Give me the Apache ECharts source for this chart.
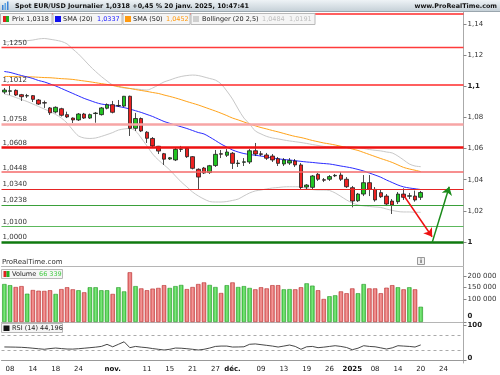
<!DOCTYPE html>
<html><head><meta charset="utf-8">
<script src="https://cdn.jsdelivr.net/npm/echarts@6/dist/echarts.min.js"></script>
<style>html,body{margin:0;padding:0;background:#fff}#c{width:500px;height:375px}</style>
</head><body><div id="c"></div>
<script>
const categories = [
'2024-10-07','2024-10-08','2024-10-09','2024-10-10','2024-10-11',
'2024-10-14','2024-10-15','2024-10-16','2024-10-17','2024-10-18',
'2024-10-21','2024-10-22','2024-10-23','2024-10-24','2024-10-25',
'2024-10-28','2024-10-29','2024-10-30','2024-10-31','2024-11-01',
'2024-11-04','2024-11-05','2024-11-06','2024-11-07','2024-11-08',
'2024-11-11','2024-11-12','2024-11-13','2024-11-14','2024-11-15',
'2024-11-18','2024-11-19','2024-11-20','2024-11-21','2024-11-22',
'2024-11-25','2024-11-26','2024-11-27','2024-11-28','2024-11-29',
'2024-12-02','2024-12-03','2024-12-04','2024-12-05','2024-12-06',
'2024-12-09','2024-12-10','2024-12-11','2024-12-12','2024-12-13',
'2024-12-16','2024-12-17','2024-12-18','2024-12-19','2024-12-20',
'2024-12-23','2024-12-24','2024-12-26','2024-12-27',
'2024-12-30','2024-12-31','2025-01-02','2025-01-03',
'2025-01-06','2025-01-07','2025-01-08','2025-01-09','2025-01-10',
'2025-01-13','2025-01-14','2025-01-15','2025-01-16','2025-01-17',
'2025-01-20','2025-01-21','2025-01-22','2025-01-23','2025-01-24',
'2025-01-27','2025-01-28','2025-01-29'];

// [open, close, low, high]
const candles = [
[1.0963,1.0976,1.0951,1.0989],[1.0968,1.0971,1.0944,1.1002],[1.0974,1.0944,1.0938,1.0980],[1.0946,1.0933,1.0906,1.0951],
[1.0938,1.0940,1.0925,1.0951],[1.0940,1.0916,1.0899,1.0944],[1.0912,1.0886,1.0880,1.0918],[1.0895,1.0892,1.0861,1.0908],
[1.0861,1.0830,1.0816,1.0867],[1.0835,1.0865,1.0826,1.0871],[1.0856,1.0814,1.0806,1.0862],[1.0818,1.0803,1.0796,1.0837],
[1.0796,1.0784,1.0764,1.0800],[1.0784,1.0822,1.0777,1.0828],[1.0822,1.0796,1.0790,1.0829],[1.0796,1.0818,1.0790,1.0825],
[1.0825,1.0828,1.0766,1.0835],[1.0818,1.0861,1.0812,1.0867],[1.0859,1.0882,1.0852,1.0890],[1.0882,1.0833,1.0826,1.0906],
[1.0874,1.0877,1.0867,1.0912],[1.0873,1.0936,1.0867,1.0938],[1.0936,1.0730,1.0681,1.0940],[1.0730,1.0793,1.0713,1.0829],
[1.0793,1.0713,1.0706,1.0800],[1.0705,1.0666,1.0636,1.0712],[1.0665,1.0617,1.0604,1.0674],[1.0615,1.0584,1.0565,1.0617],
[1.0567,1.0532,1.0495,1.0572],[1.0533,1.0541,1.0527,1.0546],[1.0527,1.0595,1.0520,1.0605],[1.0595,1.0598,1.0578,1.0617],
[1.0602,1.0548,1.0540,1.0610],[1.0548,1.0473,1.0466,1.0552],[1.0467,1.0417,1.0334,1.0473],[1.0475,1.0443,1.0437,1.0482],
[1.0446,1.0490,1.0437,1.0495],[1.0491,1.0563,1.0482,1.0591],[1.0567,1.0564,1.0539,1.0591],[1.0557,1.0578,1.0546,1.0597],
[1.0570,1.0505,1.0469,1.0578],[1.0504,1.0507,1.0482,1.0527],[1.0512,1.0515,1.0488,1.0539],[1.0514,1.0586,1.0501,1.0597],
[1.0586,1.0565,1.0552,1.0636],[1.0566,1.0563,1.0552,1.0584],[1.0559,1.0538,1.0527,1.0572],[1.0552,1.0527,1.0514,1.0565],
[1.0535,1.0505,1.0488,1.0546],[1.0501,1.0527,1.0488,1.0539],[1.0507,1.0523,1.0495,1.0539],[1.0520,1.0495,1.0482,1.0533],
[1.0495,1.0350,1.0340,1.0507],[1.0353,1.0366,1.0340,1.0372],[1.0351,1.0424,1.0340,1.0430],[1.0435,1.0403,1.0392,1.0443],
[1.0400,1.0397,1.0385,1.0411],[1.0403,1.0420,1.0392,1.0430],[1.0425,1.0428,1.0417,1.0437],[1.0430,1.0403,1.0392,1.0450],
[1.0403,1.0355,1.0347,1.0417],[1.0349,1.0263,1.0223,1.0360],[1.0265,1.0308,1.0257,1.0315],[1.0308,1.0381,1.0295,1.0430],
[1.0381,1.0338,1.0295,1.0430],[1.0338,1.0270,1.0259,1.0353],[1.0317,1.0291,1.0283,1.0334],[1.0295,1.0244,1.0231,1.0308],
[1.0263,1.0238,1.0180,1.0276],[1.0259,1.0308,1.0244,1.0321],[1.0308,1.0287,1.0270,1.0345],[1.0294,1.0297,1.0276,1.0315],
[1.0295,1.0270,1.0259,1.0330],[1.0287,1.0318,1.0270,1.0328]];

const volumes = [165000,160000,152000,156000,123000,139000,136000,135000,138000,122000,
143000,151000,142000,138000,129000,151000,151000,138000,138000,122000,
151000,133000,216000,156000,146000,138000,145000,148000,160000,148000,
156000,161000,143000,152000,165000,172000,161000,152000,126000,160000,
172000,152000,156000,148000,142000,151000,146000,160000,160000,142000,
143000,142000,151000,168000,158000,138000,100000,112000,116000,133000,
125000,146000,125000,165000,146000,146000,125000,149000,160000,151000,
142000,151000,142000,66339];

const rsi = [38.5,38.3,38,37.5,36.5,35,33.5,32,34,35.5,34,32.7,32.5,33.6,35,36.5,38,40,45.8,39,
46,53,36.5,40,38,36.5,34,32,30,32,35.5,35,33.6,32,30,32,35.5,40,41,41,
38.3,38.5,39,46,47,45,43,41,38.3,41,44,40,32,39,40,36.5,38,40,42,40,
37,30.8,35,42,40,39,36,32.7,36,42,41,40,38.3,44.196];

const sma20 = [1.1095,1.1089,1.1079,1.1069,1.1060,1.1050,1.1037,1.1028,1.1015,1.1002,
1.0986,1.0970,1.0954,1.0938,1.0922,1.0909,1.0896,1.0886,1.0881,1.0877,
1.0870,1.0863,1.0854,1.0843,1.0832,1.0819,1.0806,1.0790,1.0774,1.0762,
1.0751,1.0740,1.0729,1.0716,1.0703,1.0694,1.0674,1.0652,1.0629,1.0610,
1.0591,1.0578,1.0568,1.0562,1.0557,1.0552,1.0546,1.0540,1.0534,1.0530,
1.0527,1.0522,1.0518,1.0514,1.0511,1.0507,1.0504,1.0501,1.0495,1.0488,
1.0482,1.0475,1.0466,1.0456,1.0443,1.0430,1.0416,1.0398,1.0382,1.0366,
1.0354,1.0347,1.0342,1.0337];

const sma50 = [1.1063,1.1063,1.1062,1.1062,1.1061,1.1060,1.1058,1.1056,1.1055,1.1052,
1.1049,1.1047,1.1044,1.1039,1.1034,1.1029,1.1023,1.1017,1.1012,1.1005,
1.0999,1.0992,1.0986,1.0979,1.0973,1.0967,1.0960,1.0954,1.0944,1.0935,
1.0925,1.0914,1.0902,1.0891,1.0880,1.0867,1.0854,1.0841,1.0827,1.0812,
1.0796,1.0784,1.0771,1.0758,1.0746,1.0735,1.0726,1.0716,1.0707,1.0697,
1.0687,1.0678,1.0671,1.0662,1.0652,1.0644,1.0636,1.0630,1.0623,1.0615,
1.0607,1.0597,1.0588,1.0575,1.0562,1.0549,1.0536,1.0524,1.0511,1.0495,
1.0479,1.0469,1.0461,1.0452];

const bollUpper = [1.1284,1.1288,1.1291,1.1292,1.1293,1.1297,1.1304,1.1307,1.1302,1.1296,
1.1288,1.1272,1.1239,1.1207,1.1169,1.1130,1.1095,1.1063,1.1034,1.1008,
1.0996,1.0989,1.0986,1.0983,1.0979,1.0976,1.0989,1.1008,1.1028,1.1040,
1.1053,1.1063,1.1069,1.1072,1.1069,1.1060,1.1050,1.1040,1.1015,1.0970,
1.0918,1.0854,1.0796,1.0758,1.0713,1.0694,1.0678,1.0668,1.0662,1.0655,
1.0649,1.0644,1.0639,1.0633,1.0626,1.0620,1.0614,1.0612,1.0612,1.0612,
1.0612,1.0610,1.0607,1.0601,1.0594,1.0589,1.0585,1.0578,1.0572,1.0552,
1.0527,1.0501,1.0488,1.0484];

const bollLower = [1.0951,1.0941,1.0928,1.0915,1.0902,1.0886,1.0870,1.0854,1.0838,1.0819,
1.0796,1.0764,1.0719,1.0681,1.0668,1.0665,1.0668,1.0678,1.0690,1.0703,
1.0719,1.0726,1.0729,1.0713,1.0668,1.0617,1.0565,1.0527,1.0495,1.0463,
1.0424,1.0386,1.0354,1.0321,1.0296,1.0276,1.0260,1.0257,1.0257,1.0260,
1.0267,1.0276,1.0296,1.0315,1.0328,1.0334,1.0341,1.0347,1.0350,1.0354,
1.0355,1.0355,1.0354,1.0344,1.0337,1.0334,1.0334,1.0331,1.0315,1.0293,
1.0270,1.0251,1.0238,1.0232,1.0228,1.0225,1.0222,1.0212,1.0203,1.0196,
1.0193,1.0193,1.0191,1.0191];

const levelValues = [1.1465,1.1250,1.1012,1.0758,1.0608,1.0448,1.0340,1.0238,1.0100,1.0000];
const levelLabels = ['','1,1250','1,1012','1,0758','1,0608','1,0448','1,0340','1,0238','1,0100','1,0000'];
const priceTicks = [1.00,1.02,1.04,1.06,1.08,1.10,1.12,1.14];
const volumeTicks = [0,100000,150000,200000];
const rsiTicks = [0,100];
const rsiBands = [30,70];
const tickDates = ['2024-10-08','2024-10-14','2024-10-18','2024-10-24','2024-11-01','2024-11-11','2024-11-15','2024-11-21','2024-11-27','2024-12-02','2024-12-09','2024-12-13','2024-12-19','2024-12-26','2025-01-02','2025-01-08','2025-01-14','2025-01-20','2025-01-24'];
const tickTexts = ['08','14','18','24','nov.','11','15','21','27','déc.','09','13','19','26','2025','08','14','20','24'];
const lastPrice = 1.0318, lastVolume = 66339, lastRsi = 44.196;
const lastSma20 = 1.0337, lastSma50 = 1.0452, lastBollUp = 1.0484, lastBollLow = 1.0191;
const redArrow = [[70,1.0300],[75,1.0034]];
const greenArrow = [[75,0.9996],[78,1.0355]];

// ---- styles ----
const FONT = 'DejaVu Sans';
const levelStyles = [
  {c:'#ff2a2a',w:1.5},{c:'#ff3b3b',w:1.3},{c:'#ff2a2a',w:1.5},{c:'#f7a5a5',w:2.5},{c:'#ee1111',w:2.5},
  {c:'#f56a6a',w:1.5},{c:'#e52424',w:1},{c:'#3aa03a',w:1},{c:'#5cb85c',w:1},{c:'#0f7a0f',w:2.5}];
const boldTexts = ['nov.','déc.','2025'];
const fmtNum = (v, d) => v.toFixed(d).replace('.', ',');
const thousands = v => String(v).replace(/\B(?=(\d{3})+(?!\d))/g, '\u00a0');

const chart = echarts.init(document.getElementById('c'), null, {renderer:'canvas'});

const volData = volumes.map((v, i) => {
  const up = candles[i][1] >= candles[i][0];
  return {value: v, itemStyle: up ? {
      color: new echarts.graphic.LinearGradient(0,0,1,0,[{offset:0,color:'#36c736'},{offset:0.5,color:'#7fe67f'},{offset:1,color:'#36c736'}]),
      borderColor:'#2a9a2a', borderWidth:0.6 } : {
      color: new echarts.graphic.LinearGradient(0,0,1,0,[{offset:0,color:'#e05a5a'},{offset:0.5,color:'#f29a9a'},{offset:1,color:'#e05a5a'}]),
      borderColor:'#b83030', borderWidth:0.6 }};
});

const lvlData = levelValues.map((v, i) => ({
  yAxis: v,
  lineStyle: {color: levelStyles[i].c, width: levelStyles[i].w, type:'solid'},
  label: {show: levelLabels[i] !== '', formatter: levelLabels[i], position:'insideStartTop',
          distance:[1,1], color:'#333', fontSize:7, fontFamily:FONT}
}));

const axisLabelBase = {fontSize:7, fontFamily:FONT, color:'#333', margin:4,
  rich:{b:{fontSize:7, fontFamily:FONT, fontWeight:'bold', color:'#222'}}};

const legendText = (x, y, txt, color) => ({type:'text', z:101, x:x, y:y,
  style:{text:txt, fontSize:6.5, fontFamily:FONT, fill:color, verticalAlign:'middle'}});

const option = {
  animation:false,
  backgroundColor:'#fff',
  grid:[
    {left:1.5, width:462, top:12, height:254},
    {left:1.5, width:462, top:267, height:55},
    {left:1.5, width:462, top:322, height:41}
  ],
  xAxis:[0,1,2].map(k => ({
    type:'category', data:categories, gridIndex:k, boundaryGap:true,
    axisLine:{show:true, lineStyle:{color: k===2 ? '#999' : '#b5b5b5', width:1}},
    axisTick:{show:false},
    splitLine:{show:false},
    axisLabel: k===2 ? {
      show:true, fontSize:7, fontFamily:FONT, color:'#222', margin:3,
      interval:(i, v) => tickDates.indexOf(v) >= 0,
      formatter:v => { const t = tickTexts[tickDates.indexOf(v)]; return boldTexts.indexOf(t)>=0 ? '{b|'+t+'}' : t; },
      rich:{b:{fontSize:7, fontFamily:FONT, fontWeight:'bold', color:'#111'}}
    } : {show:false}
  })),
  yAxis:[
    {type:'value', gridIndex:0, position:'right', min:0.9846, max:1.1477, scale:true,
     axisLine:{show:true, lineStyle:{color:'#aaa'}},
     axisTick:{show:true, length:3, lineStyle:{color:'#888'}, customValues:priceTicks},
     splitLine:{show:false},
     axisLabel:Object.assign({}, axisLabelBase, {customValues:priceTicks,
       formatter:v => { const s = String(+v.toFixed(2)).replace('.', ','); return (Math.abs(v-1)<1e-6 || Math.abs(v-1.1)<1e-6) ? '{b|'+s+'}' : s; }})},
    {type:'value', gridIndex:1, position:'right', min:0, max:239000,
     axisLine:{show:true, lineStyle:{color:'#aaa'}},
     axisTick:{show:true, length:3, lineStyle:{color:'#888'}, customValues:volumeTicks},
     splitLine:{show:false},
     axisLabel:Object.assign({}, axisLabelBase, {customValues:volumeTicks,
       formatter:v => v===0 ? '{z|0}' : thousands(v),
       rich:{z:{fontSize:7, fontFamily:FONT, fontWeight:'bold', color:'#222', padding:[0,0,11,0]}}})},
    {type:'value', gridIndex:2, position:'right', min:-6.4, max:108.4,
     axisLine:{show:true, lineStyle:{color:'#aaa'}},
     axisTick:{show:true, length:3, lineStyle:{color:'#888'}, customValues:rsiTicks},
     splitLine:{show:false},
     axisLabel:Object.assign({}, axisLabelBase, {customValues:rsiTicks,
       formatter:v => v===0 ? '{z|0}' : '{b|'+v+'}',
       rich:{b:{fontSize:7, fontFamily:FONT, fontWeight:'bold', color:'#222'},
             z:{fontSize:7, fontFamily:FONT, fontWeight:'bold', color:'#222', padding:[0,0,6,0]}}})}
  ],
  series:[
    {type:'line', name:'levels', xAxisIndex:0, yAxisIndex:0, data:[], z:1, silent:true,
     markLine:{silent:true, precision:4, symbol:['none','none'], data:lvlData, animation:false}},
    {type:'line', name:'BollU', data:bollUpper, xAxisIndex:0, yAxisIndex:0, showSymbol:false, smooth:0.3,
     lineStyle:{color:'#c8c8c8', width:1}, z:2},
    {type:'line', name:'BollL', data:bollLower, xAxisIndex:0, yAxisIndex:0, showSymbol:false, smooth:0.3,
     lineStyle:{color:'#c8c8c8', width:1}, z:2},
    {type:'line', name:'SMA50', data:sma50, xAxisIndex:0, yAxisIndex:0, showSymbol:false, smooth:0.3,
     lineStyle:{color:'#ffa31a', width:1}, z:2},
    {type:'line', name:'SMA20', data:sma20, xAxisIndex:0, yAxisIndex:0, showSymbol:false, smooth:0.3,
     lineStyle:{color:'#2b2bff', width:1}, z:2},
    {type:'candlestick', name:'Prix', data:candles, xAxisIndex:0, yAxisIndex:0, barWidth:4, z:3,
     itemStyle:{color:'#22c422', color0:'#ee2222', borderColor:'#1e1e1e', borderColor0:'#1e1e1e', borderWidth:0.8},
     markLine:{silent:true, precision:4, symbol:['none','none'], animation:false,
       data:[{yAxis:lastPrice, lineStyle:{opacity:0},
         label:{show:true, position:'end', distance:2, formatter:fmtNum(lastPrice,4), backgroundColor:'#f6d200',
                color:'#000', fontWeight:'bold', fontSize:8, fontFamily:FONT, padding:[2,2,1,2]}}]}},
    {type:'line', name:'arrows', xAxisIndex:0, yAxisIndex:0, data:[], z:5, silent:true,
     markLine:{silent:true, precision:4, animation:false, symbol:['none','arrow'], symbolSize:8,
       label:{show:false},
       data:[
         [{coord:redArrow[0], lineStyle:{color:'#ee1111', width:1.5, type:'solid'}, itemStyle:{color:'#ee1111'}}, {coord:redArrow[1]}],
         [{coord:greenArrow[0], lineStyle:{color:'#1a8a1a', width:1.5, type:'solid'}, itemStyle:{color:'#1a8a1a'}}, {coord:greenArrow[1]}]
       ]}},
    {type:'bar', name:'Volume', data:volData, xAxisIndex:1, yAxisIndex:1, barWidth:4.4,
     markLine:{silent:true, precision:0, symbol:['none','none'], animation:false,
       data:[{yAxis:lastVolume, lineStyle:{opacity:0},
         label:{show:true, position:'end', distance:2, formatter:thousands(lastVolume), backgroundColor:'#fff',
                borderColor:'#999', borderWidth:0.8, color:'#33bb33', fontSize:7, fontFamily:FONT, padding:[1,2,0,2]}}]}},
    {type:'line', name:'RSI', data:rsi, xAxisIndex:2, yAxisIndex:2, showSymbol:false,
     lineStyle:{color:'#333', width:0.9},
     markLine:{silent:true, precision:3, symbol:['none','none'], animation:false,
       data:rsiBands.map(b => ({yAxis:b, lineStyle:{color:'#aaa', type:[3,3], width:1}, label:{show:false}}))
         .concat([{yAxis:lastRsi, lineStyle:{opacity:0},
           label:{show:true, position:'end', distance:2, formatter:fmtNum(lastRsi,3), backgroundColor:'#fff',
                  borderColor:'#999', borderWidth:0.8, color:'#222', fontSize:7, fontFamily:FONT, padding:[1,2,0,2]}}])}}
  ],
  graphic:[
    {type:'rect', z:100, shape:{x:0,y:0,width:500,height:11},
     style:{fill:new echarts.graphic.LinearGradient(0,0,0,1,[{offset:0,color:'#eef3f6'},{offset:1,color:'#c6d1d8'}])}},
    {type:'line', z:100, shape:{x1:0,y1:11.5,x2:500,y2:11.5}, style:{stroke:'#9aa6ae', lineWidth:1}},
    {type:'rect', z:101, shape:{x:2,y:5,width:1.5,height:5}, style:{fill:'#3b82d6'}},
    {type:'rect', z:101, shape:{x:4.5,y:3,width:1.5,height:7}, style:{fill:'#5fa8e8'}},
    {type:'rect', z:101, shape:{x:7,y:1.5,width:1.5,height:8.5}, style:{fill:'#3b82d6'}},
    {type:'text', z:101, x:15, y:6, style:{text:'Spot EUR/USD Journalier 1,0318 +0,45 % 20 janv. 2025, 10:47:41',
      fontSize:6.4, fontWeight:'bold', fontFamily:FONT, fill:'#111', verticalAlign:'middle'}},
    {type:'text', z:101, x:497, y:6, style:{text:'www.ProRealTime.com', fontSize:6.4, fontWeight:'bold', fontFamily:FONT,
      fill:'#111', align:'right', verticalAlign:'middle'}},
    // legend row
    {type:'rect', z:100, shape:{x:0.5,y:13.5,width:51.5,height:11}, style:{fill:'#f5f5f5', stroke:'#b8b8b8', lineWidth:1}},
    {type:'rect', z:101, shape:{x:3,y:16,width:3,height:6}, style:{fill:'#e02020'}},
    {type:'rect', z:101, shape:{x:6,y:16,width:3,height:6}, style:{fill:'#22b022'}},
    legendText(12, 19.5, 'Prix ' + fmtNum(lastPrice,4), '#222'),
    {type:'rect', z:100, shape:{x:53,y:13.5,width:69,height:11}, style:{fill:'#f5f5f5', stroke:'#b8b8b8', lineWidth:1}},
    {type:'rect', z:101, shape:{x:55,y:16,width:6,height:6}, style:{fill:'#1010ee'}},
    legendText(63, 19.5, 'SMA (20)', '#222'),
    legendText(97, 19.5, fmtNum(lastSma20,4), '#2020ff'),
    {type:'rect', z:100, shape:{x:123,y:13.5,width:67,height:11}, style:{fill:'#f5f5f5', stroke:'#b8b8b8', lineWidth:1}},
    {type:'rect', z:101, shape:{x:125,y:16,width:6,height:6}, style:{fill:'#ff9a10'}},
    legendText(133, 19.5, 'SMA (50)', '#222'),
    legendText(166, 19.5, fmtNum(lastSma50,4), '#ff9a10'),
    {type:'rect', z:100, shape:{x:191,y:13.5,width:124,height:11}, style:{fill:'#f5f5f5', stroke:'#b8b8b8', lineWidth:1}},
    {type:'rect', z:101, shape:{x:193,y:16,width:6,height:6}, style:{fill:'#cfcfcf'}},
    legendText(202, 19.5, 'Bollinger (20 2,5)', '#222'),
    legendText(262, 19.5, fmtNum(lastBollUp,4), '#bdbdbd'),
    legendText(289, 19.5, fmtNum(lastBollLow,4), '#bdbdbd'),
    // bottom of price panel
    {type:'text', z:101, x:2, y:262, style:{text:'ProRealTime.com', fontSize:7, fontFamily:FONT, fill:'#333', verticalAlign:'middle'}},
    {type:'rect', z:101, shape:{x:417.5,y:257.5,width:7,height:7}, style:{fill:'#f0f0f0', stroke:'#999', lineWidth:1}},
    {type:'text', z:102, x:421, y:261.5, style:{text:'i', fontSize:6, fontWeight:'bold', fontFamily:FONT, fill:'#555', align:'center', verticalAlign:'middle'}},
    // volume legend
    {type:'rect', z:100, shape:{x:1.5,y:269.5,width:61,height:9}, style:{fill:'#f5f5f5', stroke:'#b8b8b8', lineWidth:1}},
    {type:'rect', z:101, shape:{x:3.5,y:271,width:3,height:6}, style:{fill:'#e02020'}},
    {type:'rect', z:101, shape:{x:6.5,y:271,width:3,height:6}, style:{fill:'#22b022'}},
    legendText(12, 274.5, 'Volume', '#222'),
    legendText(39, 274.5, thousands(lastVolume), '#44cc44'),
    // RSI legend
    {type:'rect', z:100, shape:{x:1.5,y:323.5,width:61,height:9}, style:{fill:'#f5f5f5', stroke:'#b8b8b8', lineWidth:1}},
    {type:'rect', z:101, shape:{x:3.5,y:325.5,width:6,height:5.5}, style:{fill:'#111'}},
    legendText(12, 328.5, 'RSI (14) ' + fmtNum(lastRsi,3), '#222')
  ]
};
chart.setOption(option);
</script></body></html>
